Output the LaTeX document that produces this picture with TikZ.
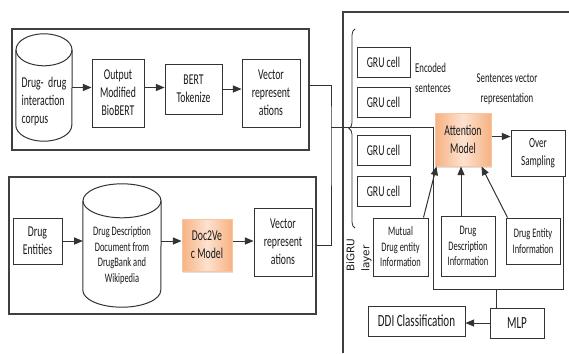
\documentclass[tikz,border=0pt]{standalone}
\usepackage{fontspec}
\usepackage{tikz}
\usetikzlibrary{arrows,shapes,positioning,shadows,decorations.pathreplacing}
\newfontfamily\boxfont{Carlito}[FakeStretch=0.65]
\newfontfamily\layerfont{DejaVu Sans}
\definecolor{attnedge}{RGB}{247,178,130}
\definecolor{attnmid}{RGB}{252,226,208}
\definecolor{attnline}{RGB}{249,196,160}

\begin{document}
\begin{tikzpicture}[x=1pt, y=-1pt, >=triangle 45]

  \newcommand{\drum}[3]{
    \draw[wire] (#1.north) ++(0,#3) ellipse [x radius=#2, y radius=#3];
    \draw[wire] (#1.north west) ++(0,#3) -- ([yshift=#3pt]#1.south west)
      arc [start angle=180, end angle=0, x radius=#2, y radius=#3] -- ([yshift=-#3pt]#1.north east);}
  \tikzset{
    every node/.style = {inner sep=0pt, align=center, text=black!90},
    big/.style = {font=\boxfont\fontsize{15}{18}\selectfont},
    small/.style = {font=\boxfont\fontsize{13}{15.5}\selectfont},
    note/.style = {font=\boxfont\fontsize{13.5}{20}\selectfont},
    blk/.style = {draw=black!80, line width=1pt, big},
    panel/.style = {draw=black!75, line width=1.1pt},
    orangebox/.style = {blk, draw=attnline, left color=attnedge, right color=attnedge,
      middle color=attnmid, drop shadow={opacity=0.25, shadow xshift=1pt, shadow yshift=-1.5pt}},
    wire/.style = {draw=black!80, line width=1pt},
    arr/.style = {wire, ->}
  }
  \useasboundingbox (0,0) rectangle (569,353);

  % text side
  \node[panel, minimum width=297pt, minimum height=121pt] (toppanel) at (160.5,89.5) {};
  \node[minimum width=56pt, minimum height=107pt,
    label={[big, align=left, yshift=-14pt]center:{Drug-\ \ drug\\interaction\\corpus}}] (corpus) at (44,87.5) {};
  \drum{corpus}{28}{16}
  \node[blk, minimum width=52pt, minimum height=68pt] (biobert) at (118,93) {Output\\Modified\\BioBERT};
  \node[blk, minimum width=57pt, minimum height=50pt] (tokenize) at (193.5,89) {BERT\\Tokenize};
  \node[blk, minimum width=58pt, minimum height=68pt] (vecA) at (271,93) {Vector\\represent\\ations};
  \draw[arr] (corpus.east) -- (corpus.east -| biobert.west);
  \draw[arr] (biobert.east |- corpus.east) -- (corpus.east -| tokenize.west);
  \draw[arr] (tokenize.east) -- (tokenize.east -| vecA.west);

  % description side
  \node[panel, minimum width=307pt, minimum height=137pt] (botpanel) at (162.5,245.5) {};
  \node[blk, minimum width=49pt, minimum height=46pt] (entities) at (37.5,241) {Drug\\Entities};
  \node[minimum width=78pt, minimum height=123pt,
    label={[small, yshift=-10pt]center:{Drug Description\\Document from\\DrugBank and\\Wikipedia}}] (docdb) at (122,245.5) {};
  \drum{docdb}{39}{17}
  \node[orangebox, minimum width=50pt, minimum height=52pt] (doc2vec) at (207,245) {Doc2Ve\\c Model};
  \node[blk, minimum width=58pt, minimum height=68pt] (vecB) at (283,242) {Vector\\represent\\ations};
  \draw[arr] (entities.east) -- (entities.east -| docdb.west);
  \draw[arr] (docdb.east |- entities.east) -- (entities.east -| doc2vec.west);
  \draw[arr] (doc2vec.east |- entities.east) -- (entities.east -| vecB.west);

  % bigru side
  \draw[panel] (343,353) -- (343,12) -- (569,12);
  \draw[wire, line width=0.8pt, decorate, decoration={brace, amplitude=6pt}] (355,228) -- (355,29);
  \foreach \y [count=\i] in {62.5,102,150.5,191}
    \node[blk, minimum width=53pt, minimum height=30pt] (gru\i) at (383.5,\y) {GRU cell};
  \node[note, align=left, anchor=west] (encoded) at (415,78) {Encoded\\sentences};
  \node[note] (sentvec) at (507,89) {Sentences vector\\representation};
  \node[orangebox, minimum width=56pt, minimum height=53pt] (attn) at (463,139.5) {Attention\\Model};
  \node[blk, font=\boxfont\fontsize{14}{18}\selectfont, minimum width=54pt, minimum height=46pt]
    (oversamp) at (538,153) {Over\\Sampling};
  \node[blk, small, minimum width=55pt, minimum height=58pt] (mutual) at (400.5,247) {Mutual\\Drug entity\\Information};
  \node[blk, small, minimum width=54pt, minimum height=60pt] (desc) at (468,246) {Drug\\Description\\Information};
  \node[blk, small, minimum width=54pt, minimum height=46pt] (entinfo) at (533,241) {Drug Entity\\Information};
  \node[blk, font=\boxfont\fontsize{17}{18}\selectfont, minimum width=97pt, minimum height=30pt]
    (ddi) at (416.5,321) {DDI Classification};
  \node[blk, font=\boxfont\fontsize{17}{18}\selectfont, minimum width=54pt, minimum height=30pt]
    (mlp) at (517,323) {MLP};
  \node[rotate=90, align=left, font=\layerfont\fontsize{10.5}{15}\selectfont] (bigru) at (359,255) {BiGRU\\layer};

  \coordinate (split) at (331,127);
  \coordinate (corner) at (433,289);
  \draw[wire] ([yshift=4.5pt]toppanel.east) -| (split) |- (botpanel.east);
  \draw[wire] (split) -| (corner) -| ([xshift=-2pt]oversamp.south east);
  \draw[wire] ([xshift=-21pt]mlp.north) -- ([xshift=-21pt]mlp.north |- corner);
  \draw[arr] ([yshift=3pt]attn.east) -- ([yshift=3pt]attn.east -| oversamp.west);
  \draw[arr] (mlp.west) -- (mlp.west -| ddi.east);
  \draw[arr] ([xshift=-5pt]mutual.north east) -- ([xshift=2pt]attn.south west);
  \draw[arr] ([xshift=-2pt]attn.south |- desc.north) -- ([xshift=-2pt]attn.south);
  \draw[arr] ([xshift=2pt]entinfo.north west) -- ([xshift=-10pt]attn.south east);

\end{tikzpicture}
\end{document}
